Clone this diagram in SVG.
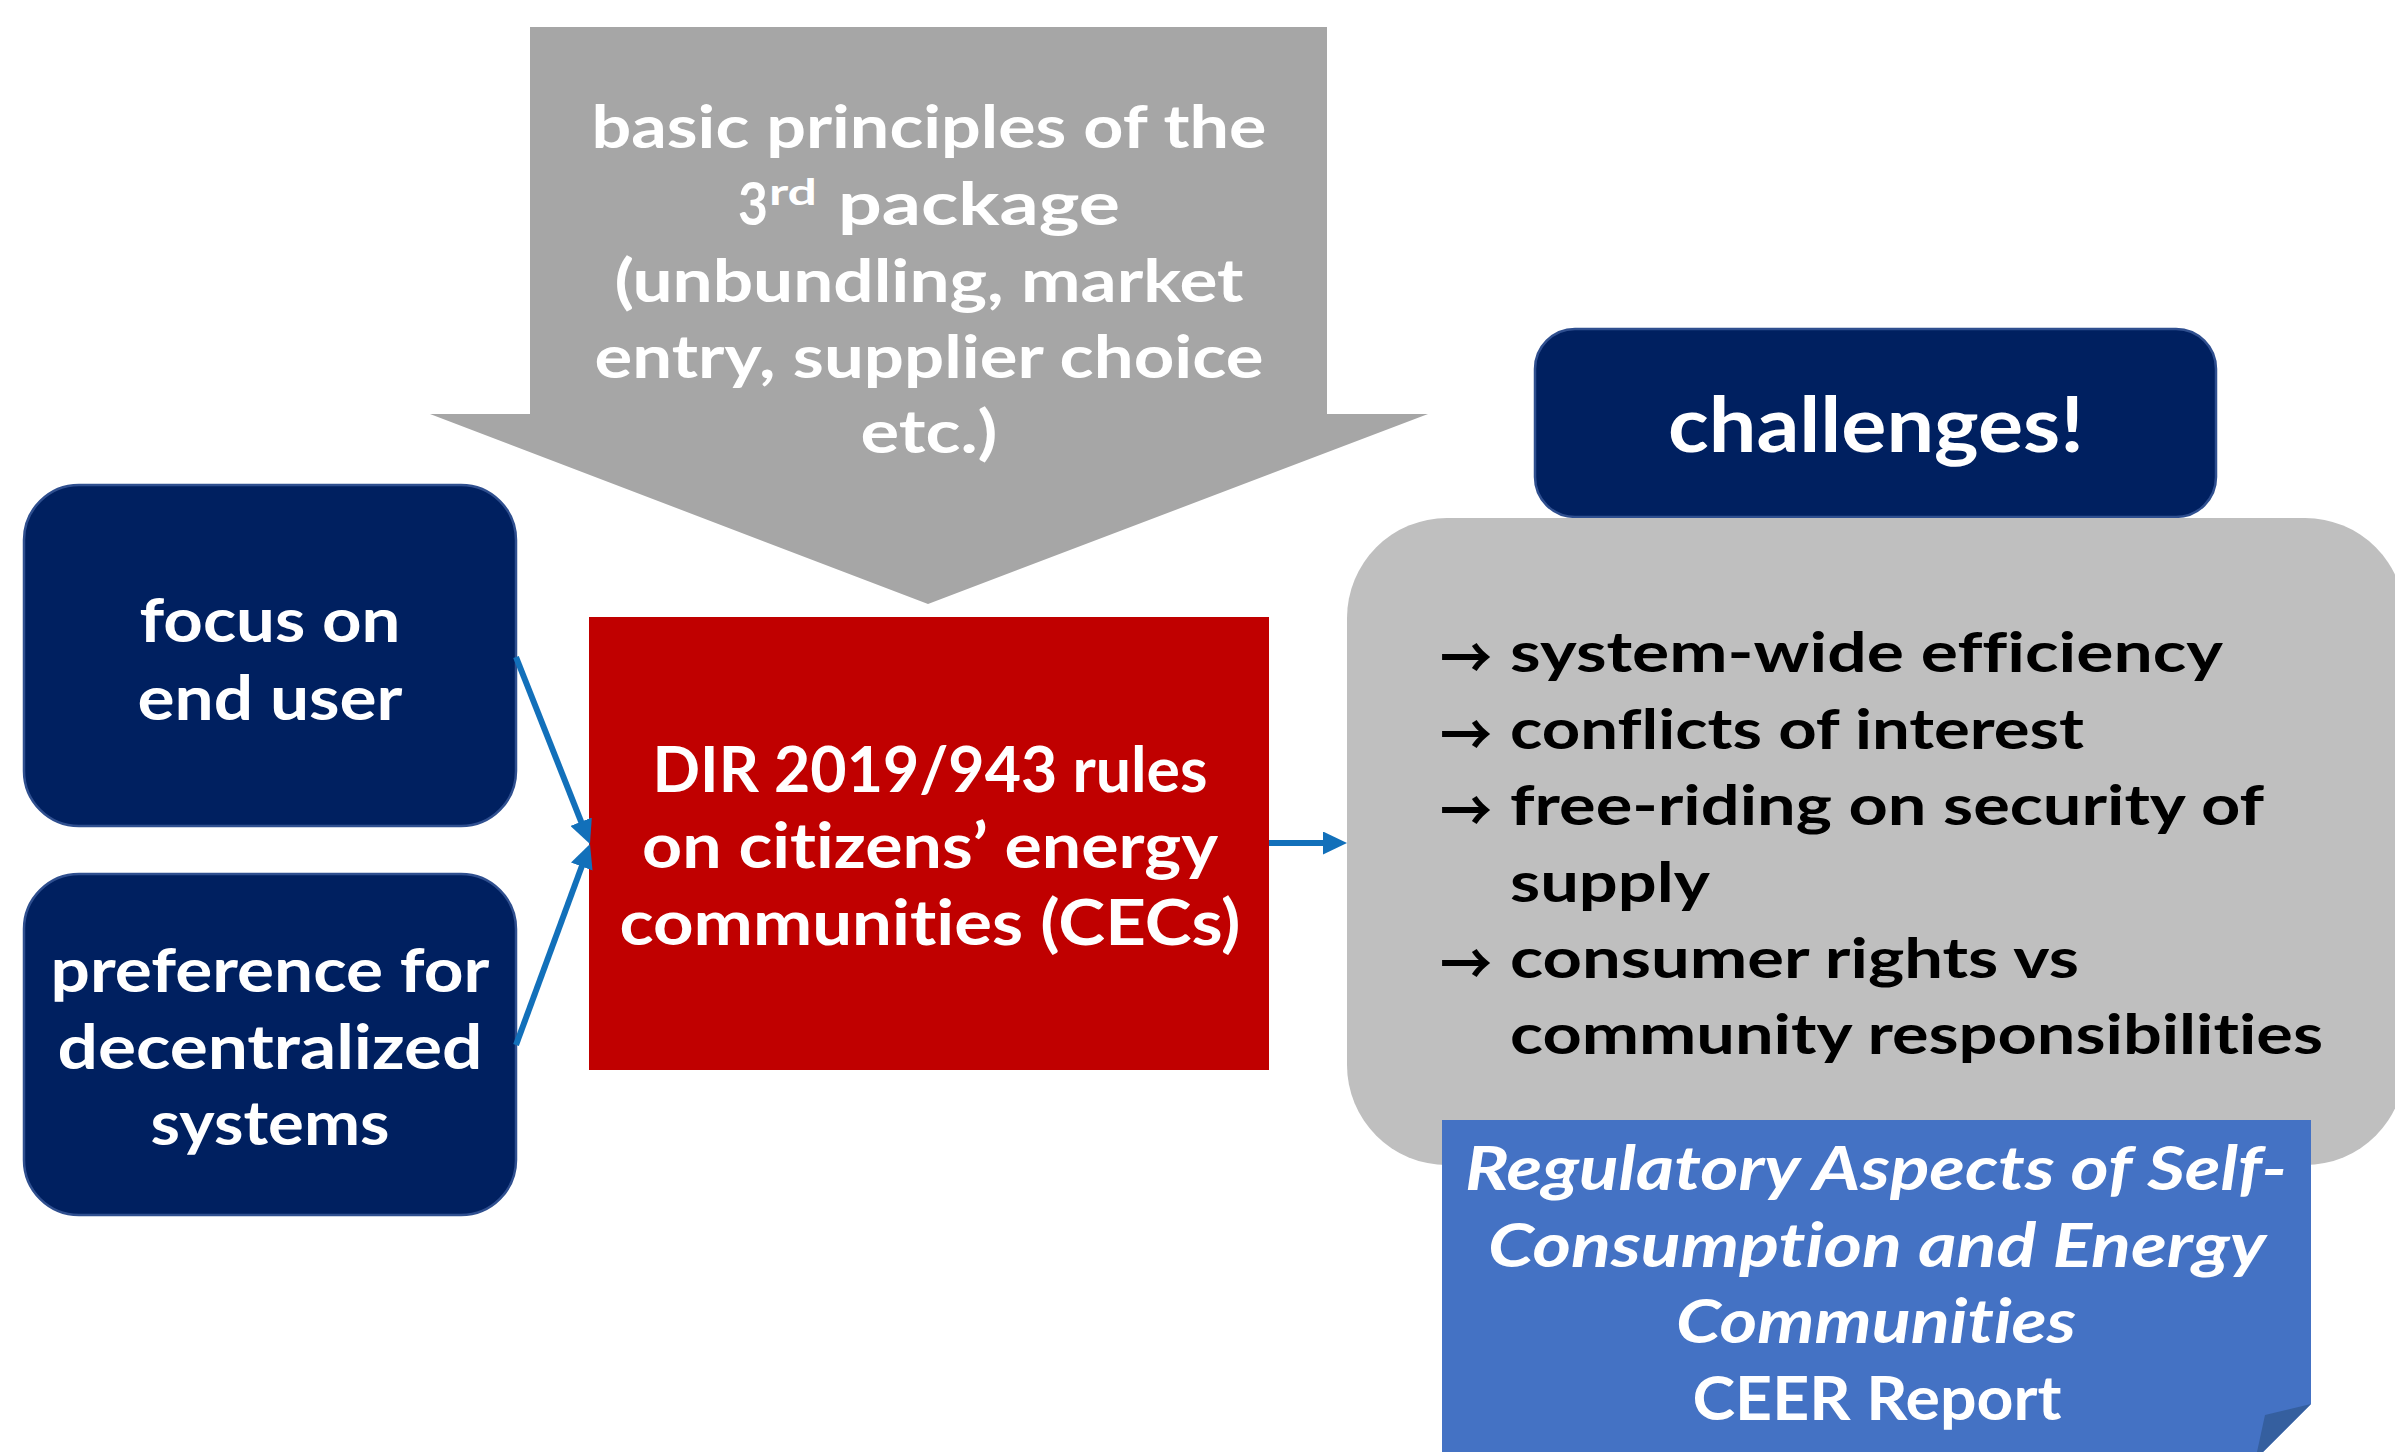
<svg xmlns="http://www.w3.org/2000/svg" width="2395" height="1452" viewBox="0 0 2395 1452">
  <style>
    .t { font-family: Lato, 'Liberation Sans', 'DejaVu Sans', sans-serif; font-weight: 700; font-variant-ligatures: none; }
    .w { fill: #ffffff; text-anchor: middle; }
    .k { fill: #000000; }
    .navy { fill: #002060; stroke: #2F4F8F; stroke-width: 2.5; }
    .conn { stroke: #1270BA; stroke-width: 6; fill: none; marker-end: url(#ah); }
    .arw { font-family: 'Noto Sans CJK SC', 'DejaVu Sans', sans-serif; font-weight: 700; fill: #000000; }
  </style>
  <defs>
    <marker id="ah" markerUnits="userSpaceOnUse" markerWidth="24" markerHeight="23" refX="4" refY="11.5" orient="auto">
      <path d="M0,0 L24,11.5 L0,23 Z" fill="#1270BA"/>
    </marker>
  </defs>
  <rect width="2395" height="1452" fill="#ffffff"/>

  <g id="node-principles">
    <polygon points="530,27 1327,27 1327,414 1428,414 928,604 430,414 530,414" fill="#A6A6A6"/>
    <text class="t w" font-size="60" x="929" y="148" textLength="675" lengthAdjust="spacingAndGlyphs">basic principles of the</text>
    <text class="t" fill="#ffffff" font-size="60" y="225"><tspan x="738" textLength="30" lengthAdjust="spacingAndGlyphs">3</tspan><tspan x="769" dy="-20" font-size="36" textLength="48" lengthAdjust="spacingAndGlyphs">rd</tspan><tspan x="838" dy="20" textLength="282" lengthAdjust="spacingAndGlyphs">package</tspan></text>
    <text class="t w" font-size="60" x="929" y="302" textLength="629" lengthAdjust="spacingAndGlyphs">(unbundling, market</text>
    <text class="t w" font-size="60" x="929" y="378" textLength="669" lengthAdjust="spacingAndGlyphs">entry, supplier choice</text>
    <text class="t w" font-size="60" x="929" y="453" textLength="137" lengthAdjust="spacingAndGlyphs">etc.)</text>
  </g>

  <g id="node-end-user">
    <rect class="navy" x="24" y="485" width="492" height="341" rx="55" ry="55"/>
    <text class="t w" font-size="62" x="270" y="642" textLength="261" lengthAdjust="spacingAndGlyphs">focus on</text>
    <text class="t w" font-size="62" x="270" y="720" textLength="265" lengthAdjust="spacingAndGlyphs">end user</text>
  </g>

  <g id="node-decentralized">
    <rect class="navy" x="24" y="874" width="492" height="341" rx="55" ry="55"/>
    <text class="t w" font-size="62" x="270" y="992" textLength="439" lengthAdjust="spacingAndGlyphs">preference for</text>
    <text class="t w" font-size="62" x="270" y="1069" textLength="425" lengthAdjust="spacingAndGlyphs">decentralized</text>
    <text class="t w" font-size="62" x="270" y="1145" textLength="239" lengthAdjust="spacingAndGlyphs">systems</text>
  </g>

  <g id="node-dir">
    <rect x="589" y="617" width="680" height="453" fill="#C00000"/>
    <text class="t w" font-size="63" x="930" y="792" textLength="555" lengthAdjust="spacingAndGlyphs">DIR 2019/943 rules</text>
    <text class="t w" font-size="63" x="930" y="868" textLength="576" lengthAdjust="spacingAndGlyphs">on citizens’ energy</text>
    <text class="t w" font-size="63" x="930" y="945" textLength="621" lengthAdjust="spacingAndGlyphs">communities (CECs)</text>
  </g>

  <g id="node-challenges">
    <rect class="navy" x="1535" y="329" width="681" height="188" rx="40" ry="40"/>
    <text class="t w" font-size="76" x="1876" y="452" textLength="416" lengthAdjust="spacingAndGlyphs">challenges!</text>
  </g>

  <g id="node-list">
    <rect x="1347" y="518" width="1058" height="647" rx="100" ry="100" fill="#BFBFBF"/>
    <text class="arw" font-size="58" x="1440" y="679" textLength="52" lengthAdjust="spacingAndGlyphs">→</text>
    <text class="t k" font-size="56" x="1510" y="672" textLength="713" lengthAdjust="spacingAndGlyphs">system-wide efficiency</text>
    <text class="arw" font-size="58" x="1440" y="756" textLength="52" lengthAdjust="spacingAndGlyphs">→</text>
    <text class="t k" font-size="56" x="1510" y="749" textLength="574" lengthAdjust="spacingAndGlyphs">conflicts of interest</text>
    <text class="arw" font-size="58" x="1440" y="832" textLength="52" lengthAdjust="spacingAndGlyphs">→</text>
    <text class="t k" font-size="56" x="1510" y="825" textLength="754" lengthAdjust="spacingAndGlyphs">free-riding on security of</text>
    <text class="t k" font-size="56" x="1510" y="902" textLength="200" lengthAdjust="spacingAndGlyphs">supply</text>
    <text class="arw" font-size="58" x="1440" y="985" textLength="52" lengthAdjust="spacingAndGlyphs">→</text>
    <text class="t k" font-size="56" x="1510" y="978" textLength="569" lengthAdjust="spacingAndGlyphs">consumer rights vs</text>
    <text class="t k" font-size="56" x="1510" y="1054" textLength="813" lengthAdjust="spacingAndGlyphs">community responsibilities</text>
  </g>

  <g id="node-report">
    <path d="M1442,1120 H2311 V1404 L2263,1452 H1442 Z" fill="#4472C4"/>
    <path d="M2311,1404 L2265,1415 L2257,1452 L2263,1452 Z" fill="#355F9F"/>
    <text class="t w" font-size="62" font-style="italic" x="1876" y="1190" textLength="822" lengthAdjust="spacingAndGlyphs">Regulatory Aspects of Self-</text>
    <text class="t w" font-size="62" font-style="italic" x="1877" y="1267" textLength="778" lengthAdjust="spacingAndGlyphs">Consumption and Energy</text>
    <text class="t w" font-size="62" font-style="italic" x="1876" y="1343" textLength="400" lengthAdjust="spacingAndGlyphs">Communities</text>
    <text class="t w" font-size="62" x="1877" y="1420" textLength="369" lengthAdjust="spacingAndGlyphs">CEER Report</text>
  </g>

  <g id="connectors">
    <line class="conn" x1="516" y1="657" x2="582.6" y2="825.4"/>
    <line class="conn" x1="516" y1="1045" x2="583.1" y2="862.8"/>
    <line class="conn" x1="1269" y1="843" x2="1327" y2="843"/>
  </g>
</svg>
